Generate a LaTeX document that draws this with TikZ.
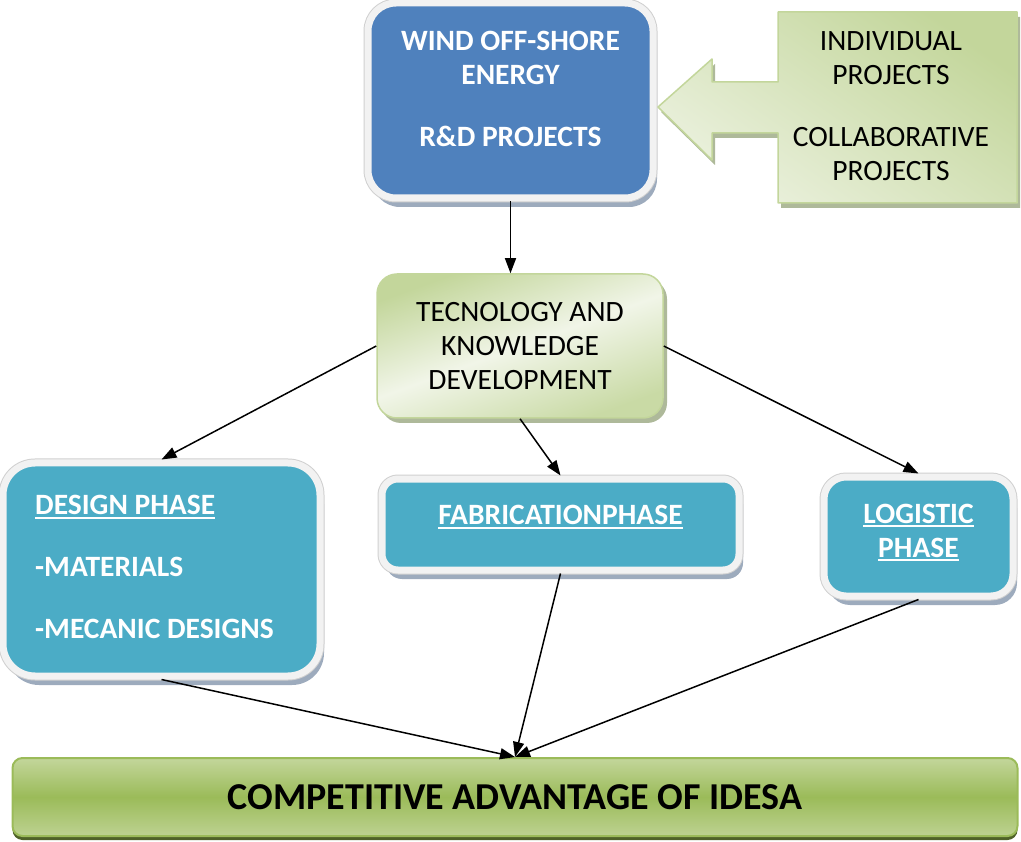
\documentclass[tikz,border=0pt]{standalone}
\usepackage{fontspec}
\setmainfont{Carlito}
\usepackage{tikz}
\usetikzlibrary{arrows.meta}
\usetikzlibrary{shadows}

\definecolor{rdblue}{HTML}{4F81BD}
\definecolor{phaseteal}{HTML}{4BACC6}
\definecolor{lightgreen}{HTML}{EBF1DE}
\definecolor{midgreen}{HTML}{C3D69B}
\definecolor{olivgreen}{HTML}{9BBB59}
\definecolor{darkolive}{HTML}{4F6228}
\definecolor{shadowgray}{HTML}{9DABBD}
\definecolor{shadowgreen}{HTML}{AEB99A}
\definecolor{rimgray}{HTML}{D0D0D0}
\definecolor{rimwhite}{HTML}{F2F2F2}

% white underline for the phase titles
\newcommand\phaseul[1]{\setbox0\hbox{#1}\rlap{\rule[-4pt]{\wd0}{2pt}}\box0}

\tikzset{
  rimbox/.style={rounded corners=#1, draw=rimwhite, line width=7pt, inner sep=0pt,
    drop shadow={shadow xshift=4pt,shadow yshift=-9pt,fill=shadowgray,opacity=1},
    preaction={draw=rimgray,line width=9pt}},
  boxtext/.style={text=white, align=center, inner sep=0pt, font=\fontsize{29.5}{34}\selectfont\bfseries},
  greentext/.style={text=black, align=center, font=\fontsize{29.5}{34}\selectfont},
  greenbox/.style={rounded corners=20pt, draw=midgreen, line width=1.5pt, inner sep=0pt,
    drop shadow={shadow xshift=4pt,shadow yshift=-5pt,fill=shadowgreen,opacity=1},
    top color=midgreen, bottom color=midgreen!85!lightgreen, middle color=lightgreen!70!white,
    shading angle=20},
  flow/.style={->, line width=1.5pt}
}

\begin{document}
\begin{tikzpicture}[x=1pt,y=-1pt,line join=round,>={Triangle[length=15pt,width=11pt]}]
  \useasboundingbox (0,0) rectangle (1021,842);

  % top box
  \node[rimbox=28pt, fill=rdblue, minimum width=285pt, minimum height=195pt] (wind) at (510.5,100.5) {};
  \node[boxtext] (windtext) at (510.5,89) {WIND OFF-SHORE\\ENERGY\\[28pt]R\&D PROJECTS};

  % callout arrow
  \shade[draw=midgreen, line width=1.5pt,
    drop shadow={shadow xshift=3pt,shadow yshift=-5pt,fill=shadowgreen,opacity=1},
    top color=midgreen, bottom color=lightgreen, shading angle=-35]
    (778,12) -- (1017,12) -- (1017,203) -- (778,203) -- (778,133) -- (712,133) -- (712,160)
    -- (658,107) -- (712,59) -- (712,82) -- (778,82) -- cycle;
  \node[greentext] (projects) at (891,106.5) {INDIVIDUAL\\PROJECTS\\[28pt]COLLABORATIVE\\PROJECTS};

  % technology box
  \node[greenbox, greentext, minimum width=286pt, minimum height=144pt] (tech) at (520,346)
    {TECNOLOGY AND\\KNOWLEDGE\\DEVELOPMENT};

  % phases
  \node[rimbox=32pt, fill=phaseteal, minimum width=317pt, minimum height=213pt] (design) at (161.5,569.5) {};
  \node[boxtext, align=left, anchor=west] (designtext) at (35,567)
    {\phaseul{DESIGN PHASE}\\[28pt]-MATERIALS\\[28pt]-MECANIC DESIGNS};
  \node[rimbox=16pt, fill=phaseteal, minimum width=357pt, minimum height=91pt] (fab) at (560.5,524.5) {};
  \node[boxtext] (fabtext) at (560.5,517) {\phaseul{FABRICATIONPHASE}};
  \node[rimbox=22pt, fill=phaseteal, minimum width=189pt, minimum height=119pt] (logistic) at (918.5,536.5) {};
  \node[boxtext] (logistictext) at (918.5,532.5) {\phaseul{LOGISTIC}\\\phaseul{PHASE}};

  % result bar
  \node[rounded corners=10pt, draw=olivgreen, line width=2pt, inner sep=0pt,
    drop shadow={shadow xshift=0pt,shadow yshift=-4pt,fill=darkolive,opacity=1},
    top color=midgreen, bottom color=midgreen!85!olivgreen, middle color=olivgreen,
    minimum width=1005pt, minimum height=78pt,
    font=\fontsize{38}{44}\selectfont\bfseries] (idesa) at (515,797) {COMPETITIVE ADVANTAGE OF IDESA};

  % connectors
  \draw[flow] (wind.south) -- (wind.south |- tech.north);
  \draw[flow] (tech.west) -- (design.north);
  \draw[flow] (tech.south) -- (fab.north);
  \draw[flow] (tech.east) -- (logistic.north);
  \draw[flow] (design.south) -- (idesa.north);
  \draw[flow] (fab.south) -- (idesa.north);
  \draw[flow] (logistic.south) -- (idesa.north);
\end{tikzpicture}
\end{document}
